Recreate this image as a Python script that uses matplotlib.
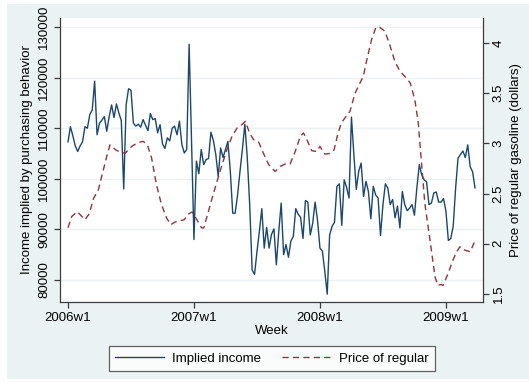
import matplotlib
matplotlib.use("Agg")
import matplotlib.pyplot as plt
from matplotlib.patches import Rectangle

plt.rcParams['font.family'] = ['Liberation Sans', 'DejaVu Sans']

# weekly implied income, 2006w1 .. 2009w13 (week 0 = 2006w1)
income = [
    107300, 110300, 108500, 106500, 105400, 106500, 107300, 110300, 110000, 112700,
    113600, 119300, 108700, 111000, 111600, 112300, 109400, 112300, 114600, 112100,
    114800, 113000, 111500, 98000, 114600, 117800, 117500, 111000, 110400, 110800,
    110200, 111700, 110600, 109500, 112900, 111700, 111900, 109100, 110700, 106900,
    106000, 108100, 107500, 110000, 110400, 108700, 111400, 106800, 105100, 105800,
    126600, 107000, 88000, 103500, 101000, 105800, 102800, 103800, 104000, 109200,
    107600, 104800, 100500, 106100, 104200, 105800, 107400, 101500, 93200, 93200,
    96800, 101500, 105900, 110800, 104200, 94900, 82000, 81100, 85600, 89600,
    94100, 86300, 90400, 86300, 89000, 90100, 83000, 89600, 95200, 85000,
    87000, 84500, 87700, 88600, 94100, 93000, 92400, 88200, 95700, 95400,
    88900, 91200, 95400, 91800, 86300, 85700, 81700, 77200, 88900, 90600,
    91400, 98500, 99000, 90800, 99800, 98300, 96200, 112200, 104800, 97900,
    101500, 103100, 96500, 99500, 97500, 92100, 98500, 96800, 96200, 88800,
    94900, 99000, 98200, 94900, 95900, 92300, 94600, 90300, 97500, 94900,
    93700, 94200, 94900, 92800, 98200, 102800, 100800, 99800, 99400, 94900,
    95200, 97200, 97400, 95400, 95400, 96100, 93600, 87800, 88200, 90600,
    98200, 104100, 104800, 105500, 104200, 106700, 102400, 101400, 98200,
]
income_week = list(range(len(income)))

# price of regular gasoline (dollars)
price_week = [
    0, 1.5, 3.8, 7, 8.8, 10.5, 12.5, 13.9, 16, 17.3, 20, 23.5, 26.3, 29, 31, 32.7,
    34.5, 36.5, 38.6, 40.7, 42.4, 44.2, 46.3, 48, 49.8, 51.2, 53.2, 55.1, 56, 57.6,
    59.5, 61.5, 63.6, 65.6, 67.7, 69.8, 71.8, 73.2, 75, 76.6, 78.7, 80.7, 82.8,
    85.5, 87.6, 89.7, 91.7, 93.8, 95.9, 97.2, 98.6, 100.6, 102.7, 104, 106, 108.1,
    109.8, 111.3, 112.8, 114.3, 116.4, 118.5, 120.5, 121.9, 123.5, 125.3, 127.1,
    128.7, 130.8, 132.8, 134.9, 137, 139.7, 141.3, 143.2, 144.6, 146, 147.3, 149.4,
    151.5, 152.7, 154, 154.8, 157, 158.7, 160.4, 161.8, 163.4, 166, 168,
]
price = [
    2.16, 2.27, 2.32, 2.24, 2.30, 2.45, 2.535, 2.67, 2.87, 2.985, 2.93, 2.90, 2.97,
    3.01, 3.02, 2.99, 2.855, 2.59, 2.39, 2.257, 2.19, 2.217, 2.23, 2.24, 2.297,
    2.317, 2.24, 2.16, 2.157, 2.29, 2.456, 2.62, 2.788, 2.937, 3.07, 3.153, 3.187,
    3.22, 3.10, 3.037, 3.013, 2.90, 2.79, 2.72, 2.77, 2.795, 2.795, 2.92, 3.07,
    3.104, 3.037, 2.927, 2.92, 2.97, 2.894, 2.90, 2.934, 3.087, 3.203, 3.253, 3.32,
    3.50, 3.60, 3.668, 3.85, 4.033, 4.156, 4.156, 4.117, 3.983, 3.818, 3.718, 3.65,
    3.60, 3.43, 3.20, 2.78, 2.40, 2.04, 1.67, 1.585, 1.595, 1.585, 1.71, 1.826,
    1.92, 1.97, 1.94, 1.92, 2.03,
]

xtick_pos = [0, 52, 104, 156]
xtick_labels = ["2006w1", "2007w1", "2008w1", "2009w1"]
income_ticks = [80000, 90000, 100000, 110000, 120000, 130000]
price_ticks = [1.5, 2, 2.5, 3, 3.5, 4]

NAVY = "#1a476f"
MAROON = "#90353b"
BG = "#eaf2f3"
AXC = "#3c3c3c"
FS = 9.5

fig = plt.figure(figsize=(5.29, 3.83), dpi=100)
fig.patch.set_facecolor("white")
# light graph-region background with a thin white margin on the left/top
fig.add_artist(Rectangle((7 / 529, 0.0104), 1 - 7 / 529, 0.979,
                         transform=fig.transFigure, facecolor=BG,
                         edgecolor="none", zorder=-10))

ax = fig.add_axes([60 / 529, 1 - 302 / 383, 423 / 529, 284 / 383])
ax.set_facecolor("white")
ax.plot(income_week, income, color=NAVY, lw=1.0, label="Implied income")
ax.set_xlim(-3.3, 171.3)
ax.set_ylim(75650, 131780)
ax.set_yticks(income_ticks)
ax.set_yticklabels([str(v) for v in income_ticks], rotation=90, va="center",
                   fontsize=FS)
ax.set_xticks(xtick_pos)
ax.set_xticklabels(xtick_labels, fontsize=FS)
ax.grid(axis="y", color=BG, lw=1.0)
ax.set_axisbelow(True)
ax.set_xlabel("Week", fontsize=FS, labelpad=1)
ax.set_ylabel("Income implied by purchasing behavior", fontsize=FS, labelpad=4)

ax2 = ax.twinx()
ax2.plot(price_week, price, color=MAROON, lw=1.0, dashes=(4.5, 3),
         label="Price of regular")
ax2.set_ylim(1.42, 4.249)
ax2.set_yticks(price_ticks)
ax2.set_yticklabels([f"{v:g}" for v in price_ticks], rotation=90, va="center",
                    fontsize=FS)
ax2.set_ylabel("Price of regular gasoline (dollars)", fontsize=FS, labelpad=4)

for a in (ax, ax2):
    a.spines["top"].set_visible(False)
    for s in ("left", "right", "bottom"):
        a.spines[s].set_color(AXC)
        a.spines[s].set_linewidth(0.9)
    a.tick_params(length=4, width=0.9, color=AXC, pad=3)
ax.spines["right"].set_visible(False)
ax2.spines["left"].set_visible(False)
ax2.spines["bottom"].set_visible(False)

h1, l1 = ax.get_legend_handles_labels()
h2, l2 = ax2.get_legend_handles_labels()
leg = fig.legend(h1 + h2, l1 + l2, loc="center", ncol=2,
                 bbox_to_anchor=(272 / 529, 1 - 358.5 / 383),
                 fontsize=FS, frameon=True, fancybox=False,
                 handlelength=3.7, handletextpad=0.6, columnspacing=1.6,
                 borderpad=0.45)
leg.get_frame().set_edgecolor(AXC)
leg.get_frame().set_linewidth(0.9)
leg.get_frame().set_facecolor("white")

fig.savefig("out.png", dpi=100, facecolor=fig.get_facecolor())
